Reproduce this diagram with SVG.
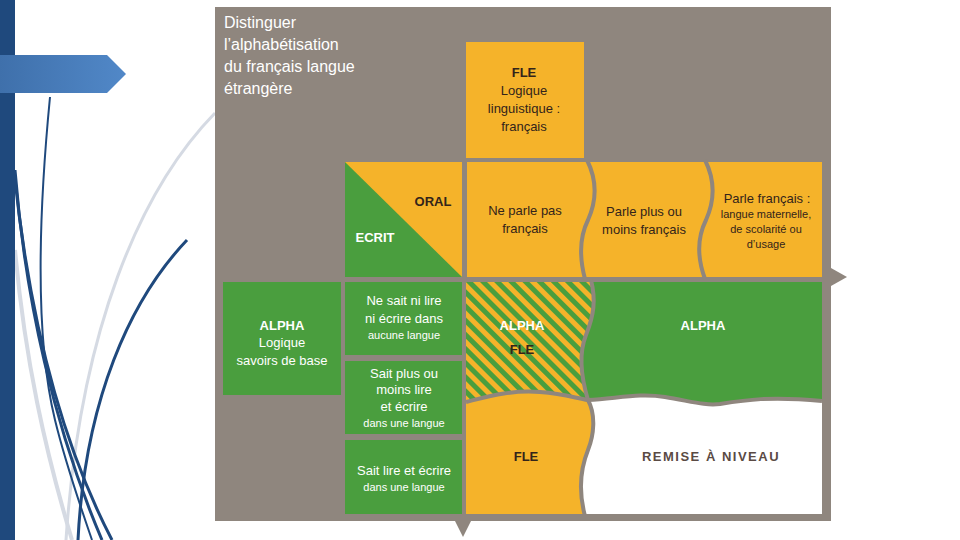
<svg xmlns="http://www.w3.org/2000/svg" width="960" height="540" viewBox="0 0 960 540">
<defs>
<style>
.t{font-family:"Liberation Sans",Arial,sans-serif;text-anchor:middle}
.w{fill:#ffffff}
.d{fill:#33241a}
.b{font-weight:bold}
.s13{font-size:13px}
.s11{font-size:11px}
.div{fill:none;stroke:#8f867e;stroke-width:4}
.navy{fill:none;stroke:#1f497d}
.lg{fill:none;stroke:#d5dae3}
</style>
<linearGradient id="ban" x1="0" y1="0" x2="1" y2="0">
<stop offset="0" stop-color="#3f70ab"/>
<stop offset="1" stop-color="#5188c8"/>
</linearGradient>
<pattern id="hatch" width="10" height="10" patternUnits="userSpaceOnUse" patternTransform="rotate(-45)">
<rect width="10" height="10" fill="#f5b32a"/>
<rect width="5" height="10" fill="#4a9e3e"/>
</pattern>
</defs>
<rect width="960" height="540" fill="#ffffff"/>
<!-- left decoration -->
<g id="decor">
<path class="lg" stroke-width="3" d="M215,113 C140,190 80,330 66,540"/>
<path class="lg" stroke-width="4" d="M15,250 C25,360 45,450 72,540"/>
<path class="navy" stroke-width="2" d="M50,97 C40,200 33,330 55,420 C66,465 80,505 92,540"/>
<path class="navy" stroke-width="3" d="M15,170 C25,300 55,430 102,540"/>
<path class="navy" stroke-width="3" d="M15,180 C30,320 60,440 112,540"/>
<path class="navy" stroke-width="3" d="M187,240 C130,300 85,400 78,540"/>
<rect x="0" y="0" width="15" height="540" fill="#1f497d"/>
<path d="M0,55 L107,55 L126,74 L107,93 L0,93 Z" fill="url(#ban)"/>
</g>
<!-- panel -->
<rect id="panel" x="215" y="7" width="616" height="514" fill="#8f867e"/>
<path d="M831,268 L847,277 L831,286 Z" fill="#8f867e"/>
<path d="M455,521 L471,521 L463,537 Z" fill="#8f867e"/>
<g id="title" class="t w" style="text-anchor:start;font-size:16px">
<text x="224" y="28">Distinguer</text>
<text x="224" y="50">l’alphabétisation</text>
<text x="224" y="72">du français langue</text>
<text x="224" y="94">étrangère</text>
</g>
<g id="fle-top">
<rect x="466" y="42" width="118" height="116" fill="#f5b32a"/>
<text class="t d b s13" x="524" y="77">FLE</text>
<text class="t d s13" x="524" y="95">Logique</text>
<text class="t d s13" x="524" y="113">linguistique :</text>
<text class="t d s13" x="524" y="131">français</text>
</g>
<g id="oral-ecrit">
<rect x="345" y="162" width="117" height="115" fill="#f5b32a"/>
<path d="M345,162 L462,277 L345,277 Z" fill="#4a9e3e"/>
<text class="t d b s13" x="433" y="206">ORAL</text>
<text class="t w b s13" x="375" y="242">ECRIT</text>
</g>
<g id="header">
<rect x="467" y="162" width="355" height="115" fill="#f5b32a"/>
</g>
<g id="col-ne-parle">
<text class="t d s13" x="525" y="215">Ne parle pas</text>
<text class="t d s13" x="525" y="233">français</text>
</g>
<g id="col-parle-plus">
<text class="t d s13" x="644" y="216">Parle plus ou</text>
<text class="t d s13" x="644" y="234">moins français</text>
</g>
<g id="col-parle">
<text class="t d s13" x="767" y="203">Parle français :</text>
<text class="t d s11" x="766" y="218">langue maternelle,</text>
<text class="t d s11" x="766" y="233">de scolarité ou</text>
<text class="t d s11" x="766" y="248">d’usage</text>
</g>
<g id="alpha-left">
<rect x="223" y="282" width="118" height="113" fill="#4a9e3e"/>
<text class="t w b s13" x="282" y="330">ALPHA</text>
<text class="t w s13" x="282" y="347">Logique</text>
<text class="t w s13" x="282" y="365">savoirs de base</text>
</g>
<g id="row-ne-sait">
<rect x="345" y="282" width="117" height="73" fill="#4a9e3e"/>
<text class="t w s13" x="404" y="305">Ne sait ni lire</text>
<text class="t w s13" x="404" y="323">ni écrire dans</text>
<text class="t w s11" x="404" y="339">aucune langue</text>
</g>
<g id="row-sait-plus">
<rect x="345" y="361" width="117" height="73" fill="#4a9e3e"/>
<text class="t w s13" x="404" y="378">Sait plus ou</text>
<text class="t w s13" x="404" y="394">moins lire</text>
<text class="t w s13" x="404" y="411">et écrire</text>
<text class="t w s11" x="404" y="427">dans une langue</text>
</g>
<g id="row-sait">
<rect x="345" y="440" width="117" height="74" fill="#4a9e3e"/>
<text class="t w s13" x="404" y="475">Sait lire et écrire</text>
<text class="t w s11" x="404" y="491">dans une langue</text>
</g>
<g id="grid">
<rect x="466" y="282" width="356" height="232" fill="#f5b32a"/>
<path id="hatched" d="M466,282 L591,282 C596,300 594,315 586,335 C578,355 582,380 588,400 C575,398 565,394 540,392 C510,390 490,396 466,402 Z" fill="url(#hatch)"/>
<path id="alpha-green" d="M591,282 L822,282 L822,401 C770,396 745,400 720,404 C705,406 690,401 665,397 C640,393 620,398 588,400 C582,380 578,355 586,335 C594,315 596,300 591,282 Z" fill="#4a9e3e"/>
<path id="remise" d="M588,400 C620,398 640,393 665,397 C690,401 705,406 720,404 C745,400 770,396 822,401 L822,514 L585,514 C578,490 580,470 588,450 C594,435 596,415 588,400 Z" fill="#ffffff"/>
<text class="t w b s13" x="522" y="330">ALPHA</text>
<text class="t d b s13" x="522" y="354">FLE</text>
<text class="t w b s13" x="703" y="330">ALPHA</text>
<text class="t d b s13" x="526" y="461">FLE</text>
<text class="t b s13" x="711" y="461" fill="#5a4a44" style="letter-spacing:1.5px">REMISE À NIVEAU</text>
</g>
<g id="connectors">
<path class="div" d="M587,160 C597,180 597,200 588,220 C578,240 580,260 585,279"/>
<path class="div" d="M705,160 C715,180 715,200 706,220 C696,240 698,260 705,279"/>
<path class="div" d="M591,280 C596,300 594,315 586,335 C578,355 582,380 588,400"/>
<path class="div" d="M466,402 C490,396 510,390 540,392 C565,394 575,398 588,400 C620,398 640,393 665,397 C690,401 705,406 720,404 C745,400 770,396 822,401"/>
<path class="div" d="M588,400 C596,415 594,435 588,450 C580,470 578,490 585,516"/>
</g>
</svg>
